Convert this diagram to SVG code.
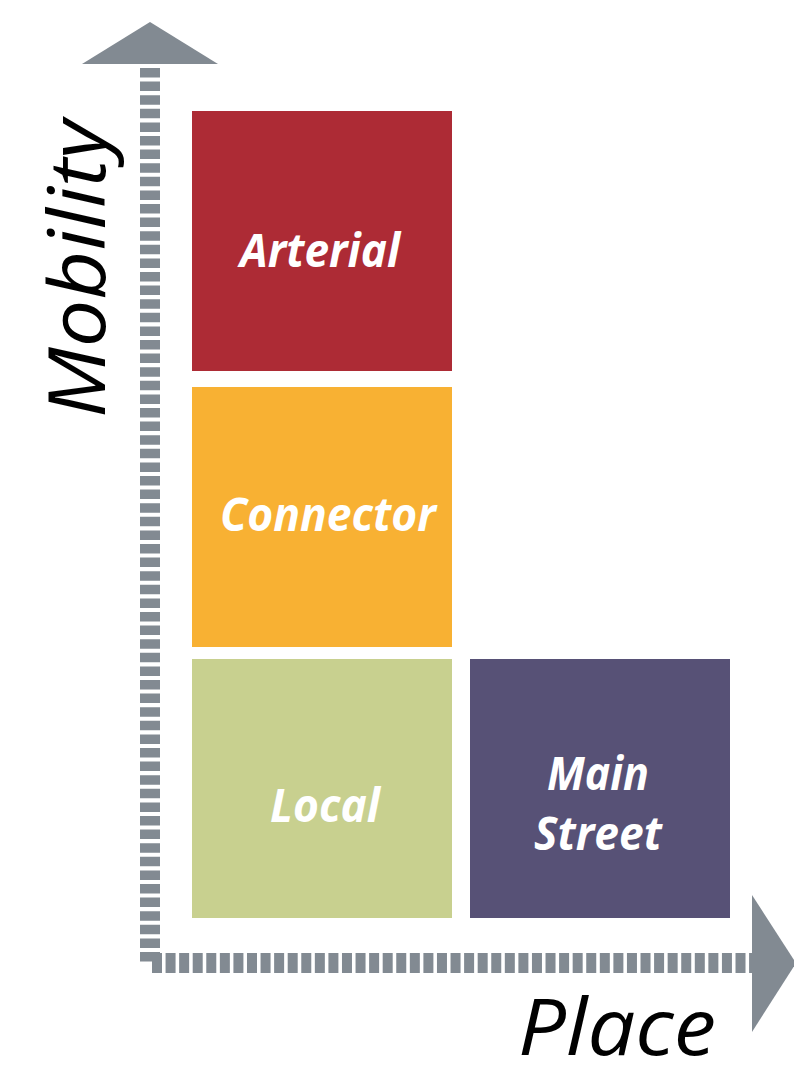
<svg xmlns="http://www.w3.org/2000/svg" width="794" height="1068" viewBox="0 0 794 1068">
<style>
.lbl{font-family:"Open Sans","Noto Sans",sans-serif;font-style:italic;font-weight:bold;font-size:46px;fill:#ffffff;text-anchor:middle}
.ax{font-family:"Open Sans","Noto Sans",sans-serif;font-style:italic;font-size:78px;fill:#000000}
.axis{stroke:#828a92;stroke-width:20;fill:none}
.head{fill:#828a92}
</style>
<rect width="794" height="1068" fill="#ffffff"/>
<g id="connectors">
<line class="axis" x1="150" y1="68" x2="150" y2="962" stroke-dasharray="9.5 4.1"/>
<line class="axis" x1="152" y1="963" x2="752" y2="963" stroke-dasharray="10 3.57"/>
<polygon class="head" points="150,22 218,64 82,64"/>
<polygon class="head" points="752,895 796,963 752,1032"/>
</g>
<g id="arterial">
<rect x="192" y="111" width="260" height="260" fill="#ad2b35"/>
<text class="lbl" x="320" y="267" textLength="160" lengthAdjust="spacingAndGlyphs">Arterial</text>
</g>
<g id="connector">
<rect x="192" y="387" width="260" height="260" fill="#f8b133"/>
<text class="lbl" x="328" y="531" textLength="216" lengthAdjust="spacingAndGlyphs">Connector</text>
</g>
<g id="local">
<rect x="192" y="659" width="260" height="259" fill="#c8d08f"/>
<text class="lbl" x="325" y="822" textLength="110" lengthAdjust="spacingAndGlyphs">Local</text>
</g>
<g id="main-street">
<rect x="470" y="659" width="260" height="259" fill="#575176"/>
<text class="lbl" x="598" y="790" textLength="102" lengthAdjust="spacingAndGlyphs">Main</text>
<text class="lbl" x="598" y="850" textLength="128" lengthAdjust="spacingAndGlyphs">Street</text>
</g>
<g id="mobility-label">
<text class="ax" transform="translate(105,418) rotate(-90)" textLength="298" lengthAdjust="spacingAndGlyphs">Mobility</text>
</g>
<g id="place-label">
<text class="ax" x="518" y="1055" font-size="75" textLength="198" lengthAdjust="spacingAndGlyphs">Place</text>
</g>
</svg>
